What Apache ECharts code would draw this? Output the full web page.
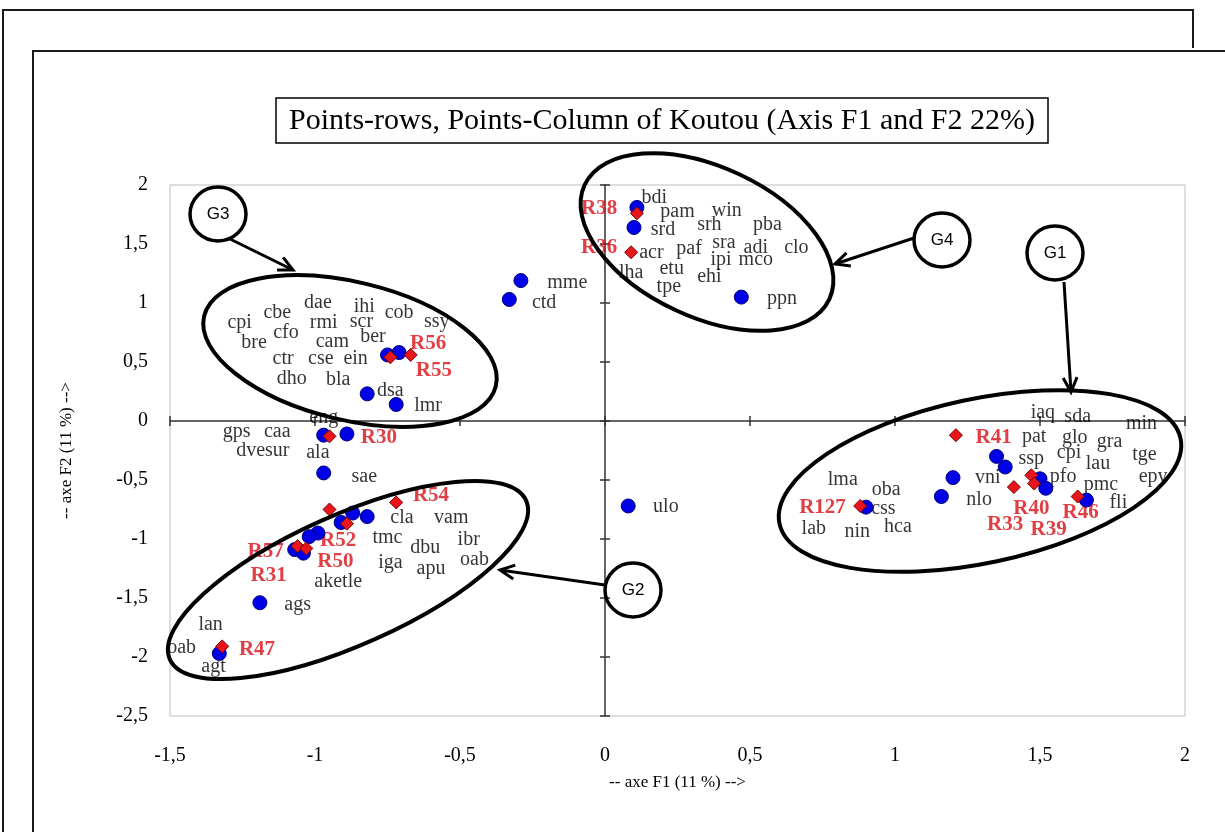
<!DOCTYPE html>
<html>
<head>
<meta charset="utf-8">
<title>Points-rows, Points-Column of Koutou</title>
<script src="https://cdn.jsdelivr.net/npm/echarts@6/dist/echarts.min.js"></script>
<style>
  html, body { margin: 0; padding: 0; background: #fff; }
  #chart { width: 1225px; height: 832px; }
</style>
</head>
<body>
<div id="chart"></div>
<script>
// column points (blue circles) : [F1, F2]
var columnPoints = [
  [-0.75, 0.56], [-0.71, 0.58], [-0.82, 0.23], [-0.72, 0.14], [-0.97, -0.12], [-0.89, -0.11],
  [-0.29, 1.19], [-0.33, 1.03], [0.11, 1.81], [0.10, 1.64], [0.47, 1.05], [-0.97, -0.44],
  [-0.87, -0.78], [-0.82, -0.81], [-0.91, -0.86], [-0.99, -0.95], [-1.02, -0.98], [-1.07, -1.09],
  [-1.04, -1.12], [-1.19, -1.54], [-1.33, -1.97], [0.08, -0.72], [1.35, -0.30], [1.38, -0.39],
  [1.20, -0.48], [1.16, -0.64], [1.50, -0.49], [1.52, -0.57], [1.66, -0.67], [0.90, -0.73]
];
// row points (red diamonds) : [F1, F2]
var rowPoints = [
  [-0.74, 0.54], [-0.67, 0.56], [-0.95, -0.13], [0.11, 1.76], [0.09, 1.43], [-0.72, -0.69],
  [-0.95, -0.75], [-0.89, -0.87], [-1.06, -1.06], [-1.03, -1.08], [-1.32, -1.91], [1.21, -0.12],
  [1.47, -0.46], [1.41, -0.56], [1.48, -0.53], [1.63, -0.64], [0.88, -0.72]
];
// column labels as placed on the chart : [F1, F2, text]
var columnLabels = [
  [-1.26, 0.83, 'cpi'], [-1.13, 0.92, 'cbe'], [-0.99, 1.00, 'dae'], [-0.83, 0.97, 'ihi'],
  [-0.71, 0.92, 'cob'], [-0.58, 0.84, 'ssy'], [-0.97, 0.83, 'rmi'], [-0.84, 0.84, 'scr'],
  [-1.10, 0.75, 'cfo'], [-1.21, 0.66, 'bre'], [-0.94, 0.67, 'cam'], [-0.80, 0.71, 'ber'],
  [-1.11, 0.53, 'ctr'], [-0.98, 0.53, 'cse'], [-0.86, 0.53, 'ein'], [-1.08, 0.36, 'dho'],
  [-0.92, 0.35, 'bla'], [-0.74, 0.26, 'dsa'], [-0.61, 0.13, 'lmr'], [-0.97, 0.03, 'eng'],
  [-1.27, -0.09, 'gps'], [-1.13, -0.09, 'caa'], [-1.18, -0.25, 'dvesur'], [-0.99, -0.27, 'ala'],
  [-0.83, -0.47, 'sae'], [-0.70, -0.82, 'cla'], [-0.53, -0.82, 'vam'], [-0.75, -0.99, 'tmc'],
  [-0.62, -1.07, 'dbu'], [-0.47, -1.01, 'ibr'], [-0.45, -1.18, 'oab'], [-0.74, -1.20, 'iga'],
  [-0.60, -1.25, 'apu'], [-0.92, -1.36, 'aketle'], [-1.06, -1.56, 'ags'], [-1.36, -1.73, 'lan'],
  [-1.46, -1.92, 'oab'], [-1.35, -2.08, 'agt'],
  [0.17, 1.89, 'bdi'], [0.25, 1.77, 'pam'], [0.42, 1.78, 'win'], [0.20, 1.62, 'srd'],
  [0.36, 1.66, 'srh'], [0.56, 1.66, 'pba'], [0.16, 1.43, 'acr'], [0.29, 1.46, 'paf'],
  [0.41, 1.51, 'sra'], [0.52, 1.47, 'adi'], [0.66, 1.47, 'clo'], [0.40, 1.37, 'ipi'],
  [0.52, 1.37, 'mco'], [0.09, 1.26, 'lha'], [0.23, 1.29, 'etu'], [0.36, 1.22, 'ehi'],
  [0.22, 1.14, 'tpe'], [-0.13, 1.17, 'mme'], [-0.21, 1.00, 'ctd'], [0.61, 1.04, 'ppn'],
  [0.21, -0.73, 'ulo'],
  [1.51, 0.07, 'iaq'], [1.63, 0.04, 'sda'], [1.85, -0.02, 'min'], [1.48, -0.13, 'pat'],
  [1.62, -0.14, 'glo'], [1.74, -0.18, 'gra'], [1.47, -0.32, 'ssp'], [1.60, -0.27, 'cpi'],
  [1.70, -0.36, 'lau'], [1.86, -0.29, 'tge'], [1.32, -0.48, 'vni'], [1.58, -0.47, 'pfo'],
  [1.71, -0.54, 'pmc'], [1.89, -0.47, 'epy'], [0.82, -0.50, 'lma'], [0.97, -0.58, 'oba'],
  [1.29, -0.67, 'nlo'], [1.77, -0.69, 'fli'], [0.96, -0.74, 'css'], [0.72, -0.91, 'lab'],
  [0.87, -0.94, 'nin'], [1.01, -0.90, 'hca']
];
// row labels : [F1, F2, text]
var rowLabels = [
  [-0.61, 0.66, 'R56'], [-0.59, 0.43, 'R55'], [-0.78, -0.14, 'R30'], [-0.02, 1.80, 'R38'],
  [-0.02, 1.47, 'R36'], [-0.60, -0.63, 'R54'], [-0.92, -1.01, 'R52'], [-1.17, -1.11, 'R57'],
  [-0.93, -1.19, 'R50'], [-1.16, -1.31, 'R31'], [-1.20, -1.94, 'R47'], [1.34, -0.14, 'R41'],
  [1.47, -0.74, 'R40'], [1.64, -0.78, 'R46'], [1.38, -0.88, 'R33'], [1.53, -0.92, 'R39'],
  [0.75, -0.73, 'R127']
];

var xMin = -1.5, xMax = 2, yMin = -2.5, yMax = 2, step = 0.5;
var titleText = 'Points-rows, Points-Column of Koutou (Axis F1 and F2 22%)';

function comma(v) { return String(v).replace('.', ','); }

function arrow(x1, y1, x2, y2) {
  var a = Math.atan2(y2 - y1, x2 - x1), h = 16, s = 0.45;
  var st = { stroke: '#000', lineWidth: 3, fill: null };
  return [
    { type: 'line', z: 100, shape: { x1: x1, y1: y1, x2: x2, y2: y2 }, style: st },
    { type: 'polyline', z: 100, shape: { points: [
      [x2 - h * Math.cos(a - s), y2 - h * Math.sin(a - s)], [x2, y2],
      [x2 - h * Math.cos(a + s), y2 - h * Math.sin(a + s)]] }, style: st }
  ];
}
function ring(cx, cy, rx, ry, rot, w) {
  return { type: 'ellipse', z: 100, x: cx, y: cy, rotation: rot * Math.PI / 180,
    shape: { cx: 0, cy: 0, rx: rx, ry: ry }, style: { fill: null, stroke: '#000', lineWidth: w } };
}
function tag(cx, cy, t) {
  return [ring(cx, cy, 28, 27, 0, 3.5),
    { type: 'text', z: 101, x: cx, y: cy, style: { text: t, fill: '#000',
      font: '17px "Liberation Sans"', align: 'center', verticalAlign: 'middle' } }];
}

var frameStyle = { stroke: '#1a1a1a', lineWidth: 2 };
var graphics = [
  { type: 'polyline', shape: { points: [[3, 832], [3, 10], [1193, 10], [1193, 48]] }, style: frameStyle },
  { type: 'polyline', shape: { points: [[33, 832], [33, 51], [1225, 51]] }, style: frameStyle },
  { type: 'rect', shape: { x: 276, y: 98, width: 772, height: 45 }, style: { fill: '#fff', stroke: '#000', lineWidth: 1.5 } },
  { type: 'text', x: 662, y: 121, style: { text: titleText, fill: '#000',
    font: '30px "Liberation Serif"', align: 'center', verticalAlign: 'middle' } },
  ring(350, 351, 150, 69, -13.5, 4),
  ring(707, 242, 135, 75, -25, 4),
  ring(348, 580, 195, 65, 24, 4),
  ring(980, 481, 205, 82, 12, 4)
].concat(tag(218, 214, 'G3'), arrow(228, 238, 293, 270),
         tag(942, 240, 'G4'), arrow(914, 238, 835, 264),
         tag(1055, 253, 'G1'), arrow(1064, 282, 1071, 392),
         tag(633, 590, 'G2'), arrow(605, 585, 500, 570));

var chart = echarts.init(document.getElementById('chart'));
var axisColor = '#333';
var labelFont = { fontFamily: 'Liberation Serif', fontSize: 20, color: '#000' };

function baseX(extra) {
  return Object.assign({ type: 'value', min: xMin, max: xMax, interval: step,
    splitLine: { show: false }, axisLabel: { show: false } }, extra);
}
function baseY(extra) {
  return Object.assign({ type: 'value', min: yMin, max: yMax, interval: step,
    splitLine: { show: false }, axisLabel: { show: false } }, extra);
}

chart.setOption({
  backgroundColor: '#fff',
  animation: false,
  grid: { left: 170, top: 185, width: 1015, height: 531, show: true,
    borderColor: '#bdbdbd', borderWidth: 1, outerBoundsMode: 'none' },
  xAxis: [
    baseX({ position: 'bottom', axisLine: { show: false, onZero: false }, axisTick: { show: false },
      axisLabel: Object.assign({ show: true, margin: 30, formatter: comma }, labelFont),
      name: '-- axe F1 (11 %) -->', nameLocation: 'middle', nameGap: 58,
      nameTextStyle: { fontFamily: 'Liberation Serif', fontSize: 17, color: '#000' } }),
    baseX({ position: 'bottom', axisLine: { onZero: true, lineStyle: { color: axisColor, width: 1.5 } },
      axisTick: { show: true, length: 5, lineStyle: { color: axisColor, width: 1.5 } } }),
    baseX({ position: 'bottom', axisLine: { show: false, onZero: true },
      axisTick: { show: true, inside: true, length: 5, lineStyle: { color: axisColor, width: 1.5 } } })
  ],
  yAxis: [
    baseY({ position: 'left', axisLine: { show: false, onZero: false }, axisTick: { show: false },
      axisLabel: Object.assign({ show: true, margin: 22, formatter: comma }, labelFont),
      name: '-- axe F2 (11 %) -->', nameLocation: 'middle', nameGap: 95, nameRotate: 90,
      nameTextStyle: { fontFamily: 'Liberation Serif', fontSize: 17, color: '#000' } }),
    baseY({ position: 'left', axisLine: { onZero: true, lineStyle: { color: axisColor, width: 1.5 } },
      axisTick: { show: true, length: 5, lineStyle: { color: axisColor, width: 1.5 } } }),
    baseY({ position: 'left', axisLine: { show: false, onZero: true },
      axisTick: { show: true, inside: true, length: 5, lineStyle: { color: axisColor, width: 1.5 } } })
  ],
  graphic: graphics,
  series: [
    {
      type: 'scatter', name: 'column labels', z: 2, silent: true,
      symbolSize: 1, itemStyle: { color: 'transparent' },
      data: columnLabels.map(function (d) { return { value: [d[0], d[1]], name: d[2] }; }),
      label: Object.assign({ show: true, position: 'inside', formatter: '{b}' }, labelFont)
    },
    {
      type: 'scatter', name: 'row labels', z: 2, silent: true,
      symbolSize: 1, itemStyle: { color: 'transparent' },
      data: rowLabels.map(function (d) { return { value: [d[0], d[1]], name: d[2] }; }),
      label: { show: true, position: 'inside', formatter: '{b}', fontFamily: 'Liberation Serif',
        fontSize: 21, fontWeight: 'bold', color: '#d80f16' }
    },
    {
      type: 'scatter', name: 'Points-column', z: 3, symbol: 'circle', symbolSize: 14,
      itemStyle: { color: '#0000e6', borderColor: '#00007a', borderWidth: 1, opacity: 1 },
      data: columnPoints
    },
    {
      type: 'scatter', name: 'Points-rows', z: 4, symbol: 'diamond', symbolSize: 13,
      itemStyle: { color: '#e8161c', borderColor: '#7a0000', borderWidth: 1, opacity: 1 },
      data: rowPoints
    }
  ]
});
</script>
</body>
</html>
